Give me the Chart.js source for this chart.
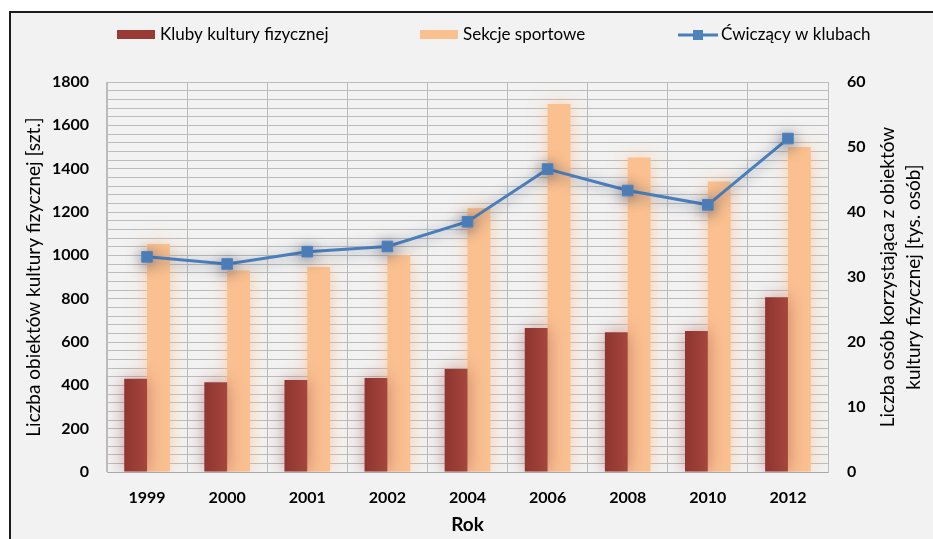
<!DOCTYPE html>
<html><head><meta charset="utf-8">
<script src="https://cdn.jsdelivr.net/npm/chart.js@4.4.1/dist/chart.umd.min.js"></script>
<style>html,body{margin:0;padding:0;background:#fff;overflow:hidden;}</style>
</head><body>
<canvas id="c" width="933" height="539"></canvas>
<script>
// ---- data ----
const years = ['1999','2000','2001','2002','2004','2006','2008','2010','2012'];
const kluby = [430, 414, 425, 434, 475, 665, 645, 651, 806];
const sekcje = [1052, 930, 946, 1001, 1218, 1698, 1452, 1341, 1500];
const cwiczacy = [33.1, 32.0, 33.9, 34.7, 38.5, 46.6, 43.3, 41.1, 51.3];
const leftTickLabels = [0, 200, 400, 600, 800, 1000, 1200, 1400, 1600, 1800];
const rightTickLabels = [0, 10, 20, 30, 40, 50, 60];
const seriesNames = ['Kluby kultury fizycznej', 'Sekcje sportowe', 'Ćwiczący w klubach'];
const xTitle = 'Rok';
const leftTitle = 'Liczba obiektów kultury fizycznej [szt.]';
const rightTitle = ['Liczba osób korzystająca z obiektów', 'kultury fizycznej [tys. osób]'];

// ---- styles ----
const FONT = 'Lato, "Open Sans", "DejaVu Sans", sans-serif';
Chart.defaults.font.family = FONT;
Chart.defaults.color = '#000';
const RED = '#983b37', ORANGE = '#fac090', BLUE = '#4a7ebb', GRID = '#bcbcbc';
const CAT_PCT = 0.57;

function redGradient(c) {
  const chart = c.chart, xs = chart.scales.x;
  if (!xs || c.type !== 'data' || !isFinite(xs.width)) return RED;
  const center = xs.getPixelForValue(c.dataIndex);
  const cw = xs.width / chart.data.labels.length;
  const left = center - cw * CAT_PCT / 2;
  const g = chart.ctx.createLinearGradient(left, 0, center, 0);
  g.addColorStop(0, '#903431');
  g.addColorStop(1, '#a4473c');
  return g;
}

const framePlugin = {
  id: 'frame',
  beforeDraw(chart) {
    const {ctx, width, height} = chart;
    ctx.save();
    ctx.fillStyle = '#ffffff'; ctx.fillRect(0, 0, width, height);
    ctx.fillStyle = '#f2f2f2'; ctx.fillRect(10, 12, width - 10, height - 12);
    ctx.strokeStyle = '#1c1c1c'; ctx.lineWidth = 2;
    ctx.beginPath(); ctx.moveTo(10, height); ctx.lineTo(10, 12); ctx.lineTo(width, 12); ctx.stroke();
    ctx.restore();
  }
};

const glowPlugin = {
  id: 'glow',
  beforeDatasetDraw(chart, args) {
    const ds = chart.data.datasets[args.index];
    const ctx = chart.ctx;
    ctx.save();
    ctx.shadowColor = ds.glowColor || 'transparent';
    ctx.shadowBlur = ds.glowBlur || 0;
    ctx.shadowOffsetX = 0;
    ctx.shadowOffsetY = ds.glowOffsetY || 0;
  },
  afterDatasetDraw(chart) { chart.ctx.restore(); }
};

const extrasPlugin = {
  id: 'extras',
  afterDraw(chart) {
    const ctx = chart.ctx;
    const ds = chart.data.datasets;
    ctx.save();
    // legend (in dataset order)
    const itemX = [117, 420, 678];
    const cy = 35;
    ctx.font = '17px ' + FONT;
    ctx.textBaseline = 'middle';
    ctx.textAlign = 'left';
    ds.forEach((d, i) => {
      const x = itemX[i];
      if (d.type === 'line') {
        ctx.strokeStyle = d.borderColor; ctx.lineWidth = 3;
        ctx.beginPath(); ctx.moveTo(x, cy); ctx.lineTo(x + 40, cy); ctx.stroke();
        ctx.fillStyle = d.pointBackgroundColor;
        ctx.fillRect(x + 15, cy - 5, 10, 10);
      } else {
        ctx.fillStyle = d.legendColor;
        ctx.fillRect(x, cy - 5, 38, 9);
      }
      ctx.fillStyle = '#000';
      ctx.fillText(d.label, x + 43, cy);
    });
    // right axis title (reads bottom to top)
    const a = chart.chartArea;
    const midY = (a.top + a.bottom) / 2;
    ctx.font = '19px ' + FONT;
    ctx.textAlign = 'center';
    ctx.translate(888, midY);
    ctx.rotate(-Math.PI / 2);
    ctx.fillText(rightTitle[0], 0, 0);
    ctx.fillText(rightTitle[1], 0, 26);
    ctx.restore();
  }
};

new Chart(document.getElementById('c'), {
  data: {
    labels: years,
    datasets: [
      { type: 'bar', label: seriesNames[0], data: kluby, yAxisID: 'y', order: 1,
        backgroundColor: redGradient, legendColor: RED,
        categoryPercentage: CAT_PCT, barPercentage: 1,
        glowColor: 'rgba(150,60,60,0.5)', glowBlur: 18 },
      { type: 'bar', label: seriesNames[1], data: sekcje, yAxisID: 'y', order: 2,
        backgroundColor: ORANGE, legendColor: ORANGE,
        categoryPercentage: CAT_PCT, barPercentage: 1,
        glowColor: 'rgba(250,185,130,0.65)', glowBlur: 18 },
      { type: 'line', label: seriesNames[2], data: cwiczacy, yAxisID: 'y1', order: 0,
        borderColor: BLUE, borderWidth: 3, tension: 0,
        pointStyle: 'rect', pointRadius: 7.5, pointBorderWidth: 1,
        pointBackgroundColor: '#4f81bd', pointBorderColor: '#4f81bd',
        glowColor: 'rgba(40,55,80,0.6)', glowBlur: 14, glowOffsetY: 2 }
    ]
  },
  options: {
    responsive: false, animation: false,
    layout: { padding: { top: 82, left: 0, right: 0, bottom: 0 } },
    plugins: { legend: { display: false }, tooltip: { enabled: false } },
    scales: {
      x: {
        grid: { color: GRID, drawTicks: false, offset: true },
        border: { color: '#a8a8a8' },
        ticks: { font: { weight: 'bold', size: 16 }, color: '#000', padding: 16, maxRotation: 0, autoSkip: false },
        title: { display: true, text: xTitle, color: '#000', font: { weight: 'bold', size: 19 }, padding: { top: 0, bottom: 3 } },
        afterFit(s) { s.height = 67; }
      },
      y: {
        position: 'left', min: 0, max: 1800,
        ticks: { stepSize: 40, maxTicksLimit: 100, autoSkip: false, padding: 18, color: '#000',
          font: { weight: 'bold', size: 16 },
          callback: (v) => leftTickLabels.includes(v) ? String(v) : '' },
        grid: { color: GRID, drawTicks: false },
        border: { color: GRID },
        title: { display: true, text: leftTitle, color: '#000', font: { size: 19 }, padding: { top: 22, bottom: 0 } },
        afterFit(s) { s.width = 107; }
      },
      y1: {
        position: 'right', min: 0, max: 60,
        ticks: { stepSize: 10, maxTicksLimit: 100, autoSkip: false, padding: 19, color: '#000',
          font: { weight: 'bold', size: 16 },
          callback: (v) => rightTickLabels.includes(v) ? String(v) : '' },
        grid: { drawOnChartArea: false, drawTicks: false },
        border: { color: GRID },
        afterFit(s) { s.width = 105; }
      }
    }
  },
  plugins: [framePlugin, glowPlugin, extrasPlugin]
});
</script>
</body></html>
